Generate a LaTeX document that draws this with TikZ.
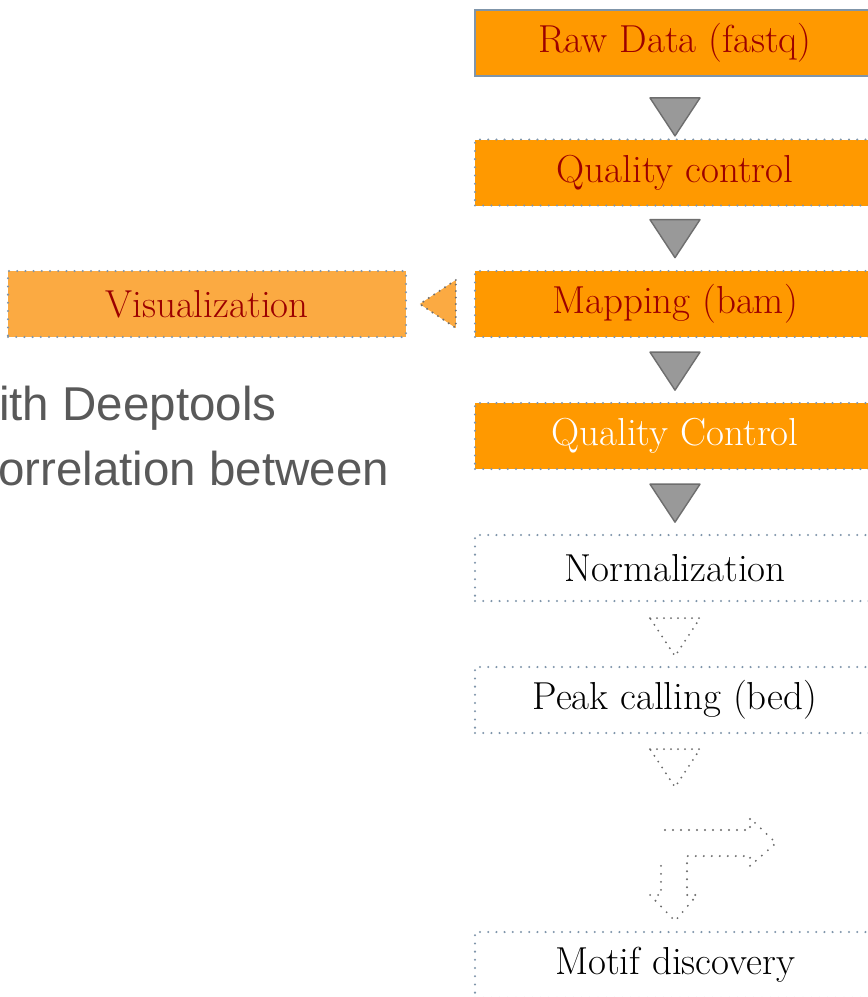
\documentclass[tikz,border=0pt]{standalone}
\usepackage{fontspec}
\newfontfamily\notesfont{Liberation Sans}
\usetikzlibrary{calc}
\definecolor{boxorange}{HTML}{FF9900}
\definecolor{lightorange}{HTML}{FBAA42}
\definecolor{stepred}{HTML}{9C0000}
\definecolor{frameblue}{HTML}{7F95AA}
\definecolor{trifill}{HTML}{999999}
\definecolor{triedge}{HTML}{6E6E6E}
\definecolor{dotgray}{HTML}{6A6A6A}
\definecolor{notegray}{HTML}{595959}
\tikzset{
  stepbox/.style={minimum width=400pt, minimum height=66pt, inner sep=0pt,
    font=\fontsize{39}{44}\selectfont},
  dotframe/.style={draw=frameblue, line width=2.3pt, line cap=round,
    dash pattern=on 0pt off 8.2pt},
  solidframe/.style={draw=frameblue, line width=1.8pt},
  filledstep/.style={stepbox, fill=boxorange, text=stepred},
  openstep/.style={stepbox, dotframe, text=black},
  solidtri/.style={fill=trifill, draw=triedge, line width=1.4pt, line join=round},
  dottri/.style={draw=dotgray, line width=2.1pt, line cap=round,
    dash pattern=on 0pt off 7pt},
  notetext/.style={anchor=base west, inner sep=0pt, text=notegray,
    font=\notesfont\fontsize{47.5}{56}\selectfont},
}
% downward triangle hanging under a step box: node, gap, style
\newcommand{\downtri}[3]{%
  \draw[#3] ($(#1.south)+(-25,#2)$) -- ($(#1.south)+(25,#2)$)
    -- ($(#1.south)+(0,#2+38)$) -- cycle;}
\begin{document}
\begin{tikzpicture}[x=1pt,y=-1pt]
\clip (0,0) rectangle (868,997);
\fill[white] (0,0) rectangle (868,997);

% pipeline steps
\node[filledstep, solidframe] (raw)   at (675,43)  {Raw Data (fastq)};
\node[filledstep, dotframe]   (qca)   at (675,172.5) {Quality control};
\node[filledstep, dotframe]   (map)   at (675,304) {Mapping (bam)};
\node[filledstep, dotframe, text=white] (qcb) at (675,436) {Quality Control};
\node[openstep]               (norm)  at (675,568) {Normalization};
\node[openstep]               (peak)  at (675,700) {Peak calling (bed)};
\node[openstep]               (motif) at (675,965) {Motif discovery};

% side branch
\node[stepbox, minimum width=398pt, fill=lightorange, dotframe, text=stepred]
  (vis) at (207,304) {Visualization};

% arrows between steps
\downtri{raw}{21}{solidtri}
\downtri{qca}{13}{solidtri}
\downtri{map}{14}{solidtri}
\downtri{qcb}{14}{solidtri}
\downtri{norm}{16}{dottri}
\downtri{peak}{15}{dottri}

% arrow towards the visualization branch
\draw[fill=lightorange, draw=triedge, line width=2.2pt, line cap=round,
      dash pattern=on 0pt off 6.5pt]
  ($(map.west)+(-18,-24)$) -- ($(map.west)+(-54,0)$)
  -- ($(map.west)+(-18,24)$) -- cycle;

% bent arrow
\draw[dottri, dash pattern=on 0pt off 8pt]
  (665,830) -- (750,830) -- (750,818) -- (776,843) -- (750,866)
  -- (750,856) -- (687,856) -- (687,895) -- (697,895) -- (675,921)
  -- (650,895) -- (661,895) -- (661,858);

% notes
\node[notetext] (notea) at (-1,420) {ith Deeptools};
\node[notetext] (noteb) at (-2,485) {orrelation between};
\end{tikzpicture}
\end{document}
